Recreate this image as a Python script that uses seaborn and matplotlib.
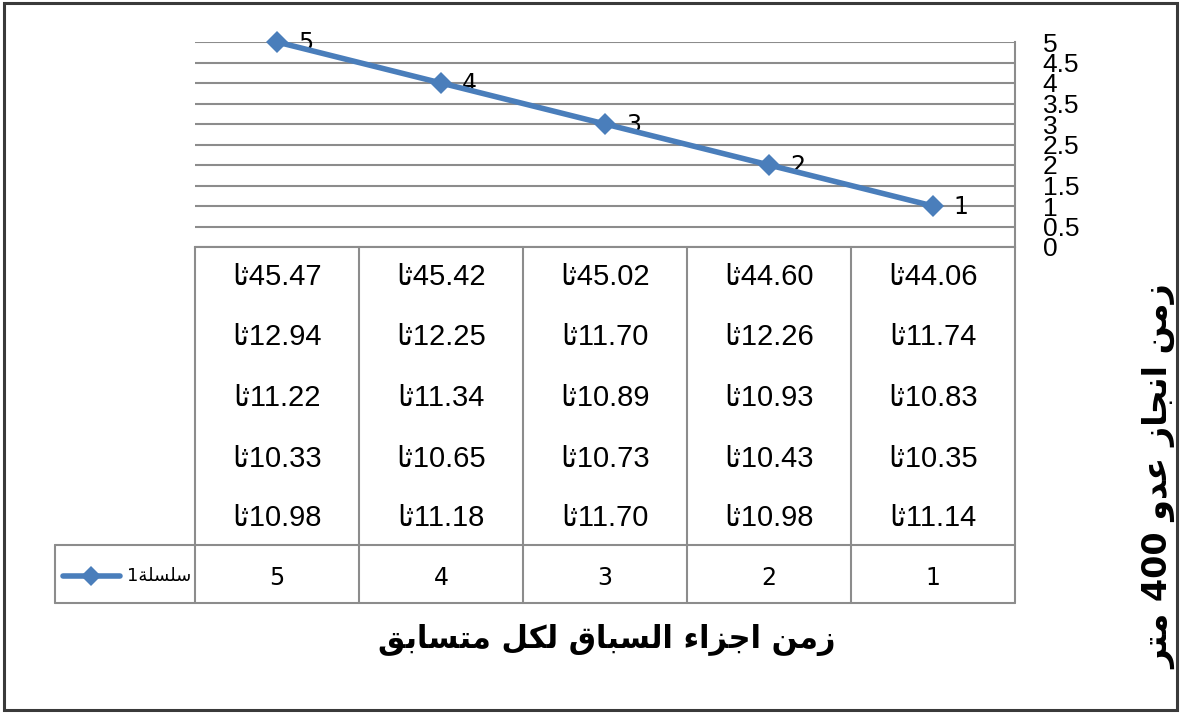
import numpy as np
import pandas as pd
import matplotlib
matplotlib.use("Agg")
import matplotlib.pyplot as plt
import seaborn as sns
from matplotlib import font_manager
from matplotlib.transforms import blended_transform_factory
from matplotlib.lines import Line2D
from matplotlib.patches import Rectangle

# ---------------- data ----------------
categories = [1, 2, 3, 4, 5]
values = [1, 2, 3, 4, 5]
total_time = ["44.06", "44.60", "45.02", "45.42", "45.47"]
split_1 = ["11.74", "12.26", "11.70", "12.25", "12.94"]
split_2 = ["10.83", "10.93", "10.89", "11.34", "11.22"]
split_3 = ["10.35", "10.43", "10.73", "10.65", "10.33"]
split_4 = ["11.14", "10.98", "11.70", "11.18", "10.98"]
unit = "ثا"
series_name = "سلسلة1"
x_title = "زمن اجزاء السباق لكل متسابق"
y_title = "زمن انجاز عدو 400 متر"
y_ticks = [0, 0.5, 1, 1.5, 2, 2.5, 3, 3.5, 4, 4.5, 5]
y_tick_labels = ["0", "0.5", "1", "1.5", "2", "2.5", "3", "3.5", "4", "4.5", "5"]

# ---------------- arabic shaping (presentation forms) ----------------
FORMS = {
    'ء': ('\uFE80', None, None, None),
    'ا': ('\uFE8D', '\uFE8E', None, None),
    'ب': ('\uFE8F', '\uFE90', '\uFE91', '\uFE92'),
    'ة': ('\uFE93', '\uFE94', None, None),
    'ت': ('\uFE95', '\uFE96', '\uFE97', '\uFE98'),
    'ث': ('\uFE99', '\uFE9A', '\uFE9B', '\uFE9C'),
    'ج': ('\uFE9D', '\uFE9E', '\uFE9F', '\uFEA0'),
    'د': ('\uFEA9', '\uFEAA', None, None),
    'ر': ('\uFEAD', '\uFEAE', None, None),
    'ز': ('\uFEAF', '\uFEB0', None, None),
    'س': ('\uFEB1', '\uFEB2', '\uFEB3', '\uFEB4'),
    'ع': ('\uFEC9', '\uFECA', '\uFECB', '\uFECC'),
    'ق': ('\uFED5', '\uFED6', '\uFED7', '\uFED8'),
    'ك': ('\uFED9', '\uFEDA', '\uFEDB', '\uFEDC'),
    'ل': ('\uFEDD', '\uFEDE', '\uFEDF', '\uFEE0'),
    'م': ('\uFEE1', '\uFEE2', '\uFEE3', '\uFEE4'),
    'ن': ('\uFEE5', '\uFEE6', '\uFEE7', '\uFEE8'),
    'و': ('\uFEED', '\uFEEE', None, None),
}


def shape(s):
    glyphs = []
    n = len(s)
    for i, ch in enumerate(s):
        f = FORMS.get(ch)
        if f is None:
            glyphs.append(ch)
            continue
        prev = s[i - 1] if i > 0 else ''
        nxt = s[i + 1] if i < n - 1 else ''
        jp = prev in FORMS and FORMS[prev][2] is not None and f[1] is not None
        jn = f[2] is not None and nxt in FORMS and FORMS[nxt][1] is not None
        if jp and jn:
            g = f[3]
        elif jp:
            g = f[1]
        elif jn:
            g = f[2]
        else:
            g = f[0]
        glyphs.append(g)
    runs = []
    for orig, g in zip(s, glyphs):
        rtl = not (orig.isdigit() or orig == '.')
        if runs and runs[-1][0] == rtl:
            runs[-1][1].append(g)
        else:
            runs.append([rtl, [g]])
    out = ''
    for rtl, chars in reversed(runs):
        out += ''.join(reversed(chars)) if rtl else ''.join(chars)
    return out


# ---------------- style ----------------
sns.set_theme(style="white")
names = {f.name for f in font_manager.fontManager.ttflist}
narrow = "Liberation Sans Narrow" if "Liberation Sans Narrow" in names else "Liberation Sans"
plt.rcParams["font.family"] = [narrow, "DejaVu Sans"]

W, H = 1182, 713
fig = plt.figure(figsize=(W / 100, H / 100), dpi=100)
fig.patch.set_facecolor("white")

ax_left, ax_right, ax_top, ax_bot = 195, 1015, 42, 247
ax = fig.add_axes([ax_left / W, 1 - ax_bot / H, (ax_right - ax_left) / W, (ax_bot - ax_top) / H])
axh = ax_bot - ax_top
axw = ax_right - ax_left


def ay(py):
    return (ax_bot - py) / axh


def ax_x(px):
    return (px - ax_left) / axw


line_color = "#4A7EBB"
grid_color = "#8C8C8C"

df = pd.DataFrame({"cat": categories, "val": values})
sns.lineplot(data=df, x="cat", y="val", ax=ax, color=line_color, lw=4.0,
             marker="D", markersize=11.5, markeredgewidth=0, clip_on=False, zorder=5)

ax.set_xlim(5.5, 0.5)
ax.set_ylim(0, 5)
ax.set_xticks([])
ax.set_yticks(y_ticks)
ax.set_yticklabels(y_tick_labels)
ax.yaxis.tick_right()
ax.tick_params(axis="y", length=0, pad=20, labelsize=19, labelcolor="#000000")
ax.grid(axis="y", color=grid_color, lw=1.5)
ax.set_xlabel("")
ax.set_ylabel("")
for side in ["left", "top"]:
    ax.spines[side].set_visible(False)
for side in ["right", "bottom"]:
    ax.spines[side].set_color(grid_color)
    ax.spines[side].set_linewidth(1.5)

# data labels
for c, v in zip(categories, values):
    ax.annotate(str(v), (c, v), xytext=(15, -1), textcoords="offset points",
                ha="left", va="center", fontsize=17, color="black",
                family=["DejaVu Sans"])

# ---------------- data table ----------------
tr = blended_transform_factory(ax.transData, ax.transAxes)
row_px = [277, 337, 398, 459, 518]
rows = [total_time, split_1, split_2, split_3, split_4]
for rp, row in zip(row_px, rows):
    for c, val in zip(categories, row):
        ax.text(c, ay(rp), shape(val + unit), transform=tr, ha="center", va="center",
                fontsize=21, color="black", clip_on=False)

cat_row_px = 578
for c in categories:
    ax.text(c, ay(cat_row_px), str(c), transform=tr, ha="center", va="center",
            fontsize=17, color="black", family=["DejaVu Sans"], clip_on=False)

line_kw = dict(color=grid_color, lw=1.5, clip_on=False)
y_top_tab, y_mid, y_bot_tab = ay(ax_bot), ay(545), ay(603)
for b in [5.5, 4.5, 3.5, 2.5, 1.5, 0.5]:
    ax.add_line(Line2D([b, b], [y_top_tab, y_bot_tab], transform=tr, **line_kw))
leg_left = ax_x(55)
for yy in [y_mid, y_bot_tab]:
    ax.add_line(Line2D([leg_left, 1], [yy, yy], transform=ax.transAxes, **line_kw))
ax.add_line(Line2D([leg_left, leg_left], [y_mid, y_bot_tab], transform=ax.transAxes, **line_kw))

# legend key
ky = ay(576)
ax.add_line(Line2D([ax_x(63), ax_x(120)], [ky, ky], transform=ax.transAxes,
                   color=line_color, lw=4.0, clip_on=False))
ax.add_line(Line2D([ax_x(91)], [ky], transform=ax.transAxes, color=line_color,
                   marker="D", markersize=10, markeredgewidth=0, clip_on=False))
ax.text(ax_x(191), ky, shape(series_name), transform=ax.transAxes, ha="right", va="center",
        fontsize=13, color="black", family=["DejaVu Sans"], clip_on=False)

# ---------------- titles ----------------
fig.text(607 / W, 1 - 640 / H, shape(x_title), ha="center", va="center",
         fontsize=22, fontweight="bold", family=["DejaVu Sans"], color="black")
fig.text(1160 / W, 1 - 477 / H, shape(y_title), ha="center", va="center", rotation=90,
         fontsize=24, fontweight="bold", family=["DejaVu Sans"], color="black")

# outer border
fig.patches.append(Rectangle((4 / W, 3 / H), (W - 9) / W, (H - 6) / H, transform=fig.transFigure,
                             fill=False, edgecolor="#3A3A3A", lw=2.2))

fig.savefig("out.png", dpi=100, facecolor="white")
